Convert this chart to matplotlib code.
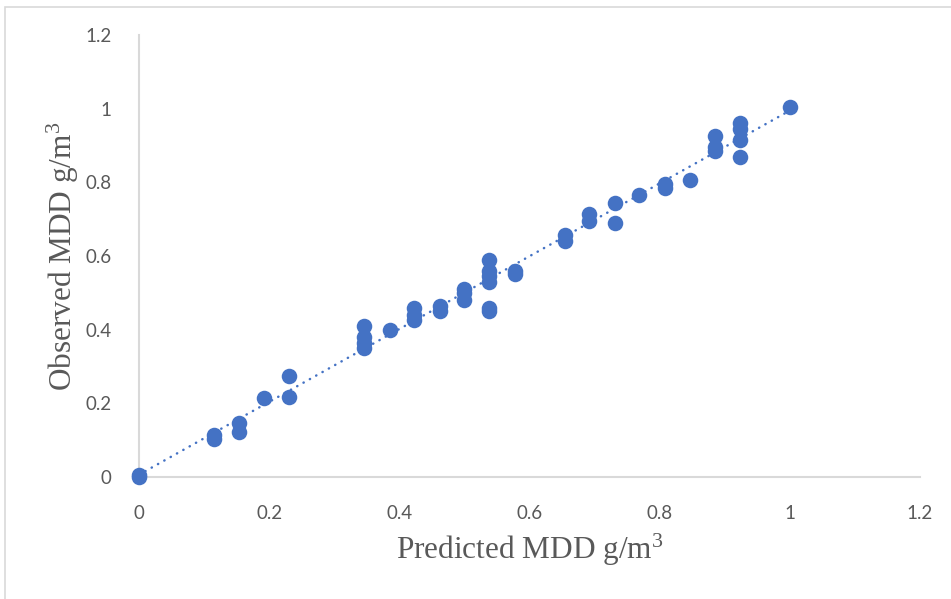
import numpy as np
import matplotlib.pyplot as plt
import matplotlib.patches as patches

plt.rcParams['mathtext.default'] = 'regular'

# Predicted vs observed MDD
predicted = [0.0, 0.0,
             0.115, 0.115,
             0.154, 0.154,
             0.192,
             0.231, 0.231,
             0.346, 0.346, 0.346, 0.346,
             0.385,
             0.423, 0.423, 0.423,
             0.462, 0.462,
             0.5, 0.5, 0.5,
             0.538, 0.538, 0.538, 0.538, 0.538, 0.538,
             0.577, 0.577,
             0.654, 0.654,
             0.692, 0.692,
             0.731, 0.731,
             0.769,
             0.808, 0.808,
             0.846,
             0.885, 0.885, 0.885,
             0.923, 0.923, 0.923, 0.923,
             1.0]
observed = [0.005, 0.0,
            0.115, 0.103,
            0.147, 0.122,
            0.215,
            0.274, 0.218,
            0.41, 0.38, 0.365, 0.35,
            0.40,
            0.46, 0.44, 0.425,
            0.465, 0.45,
            0.51, 0.50, 0.48,
            0.59, 0.56, 0.545, 0.53, 0.46, 0.45,
            0.56, 0.55,
            0.658, 0.64,
            0.715, 0.695,
            0.745, 0.69,
            0.765,
            0.795, 0.785,
            0.807,
            0.925, 0.895, 0.885,
            0.96, 0.945, 0.915, 0.87,
            1.005]

ticks = [0, 0.2, 0.4, 0.6, 0.8, 1, 1.2]
tick_labels = ['0', '0.2', '0.4', '0.6', '0.8', '1', '1.2']

blue = '#4472C4'
grey = '#595959'

fig = plt.figure(figsize=(9.51, 5.99), dpi=100)
ax = fig.add_axes([139 / 951, 1 - 477 / 599, (920 - 139) / 951, (477 - 35) / 599])

# chart-area border (only left/top visible in the crop)
border = patches.Rectangle((5 / 951, -0.1), 1.2, 1.1 - 7 / 599, transform=fig.transFigure,
                           fill=False, edgecolor='#d9d9d9', linewidth=1.2, clip_on=False)
fig.add_artist(border)

ax.scatter(predicted, observed, s=125, color=blue, zorder=3, linewidths=0, clip_on=False)

# linear trendline
slope, intercept = np.polyfit(predicted, observed, 1)
xs = np.array([min(predicted), max(predicted)])
ax.plot(xs, slope * xs + intercept, color=blue, linewidth=1.8,
        linestyle=(0, (0.1, 2.8)), dash_capstyle='round', zorder=2)

ax.set_xlim(0, 1.2)
ax.set_ylim(0, 1.2)
ax.set_xticks(ticks)
ax.set_xticklabels(tick_labels)
ax.set_yticks(ticks)
ax.set_yticklabels(tick_labels)
ax.tick_params(length=0, labelsize=13.5, labelcolor=grey)
ax.tick_params(axis='x', pad=20)
ax.tick_params(axis='y', pad=20)
for lbl in ax.get_xticklabels() + ax.get_yticklabels():
    lbl.set_family('Lato')

for side in ['top', 'right']:
    ax.spines[side].set_visible(False)
for side in ['left', 'bottom']:
    ax.spines[side].set_color('#d9d9d9')
    ax.spines[side].set_linewidth(1.5)

ax.set_xlabel('Predicted MDD g/m$^{3}$', fontsize=22.5, color=grey, family='Liberation Serif')
ax.set_ylabel('Observed MDD g/m$^{3}$', fontsize=22.5, color=grey, family='Liberation Serif')
ax.xaxis.set_label_coords(0.5, -(550 - 477) / 442)
ax.yaxis.set_label_coords(-(139 - 63) / 781, 0.5)
ax.xaxis.label.set_va('center')
ax.yaxis.label.set_va('center')

fig.savefig('out.png', dpi=100)
